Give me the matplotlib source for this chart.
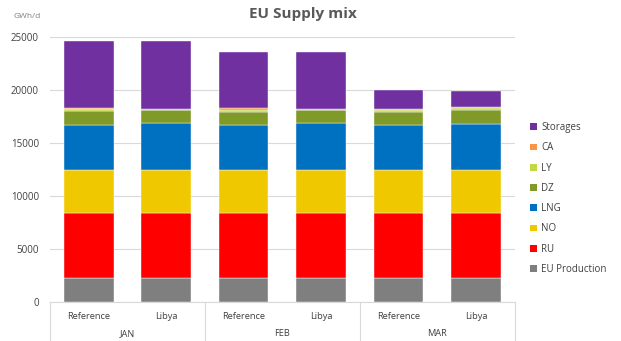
import numpy as np
import matplotlib
matplotlib.use("Agg")
import matplotlib.pyplot as plt
from matplotlib.patches import Patch

plt.rcParams['font.family'] = ['Open Sans', 'DejaVu Sans']

months = ['JAN', 'FEB', 'MAR']
scenarios = ['Reference', 'Libya']

# GWh/d, order: JAN Ref, JAN Libya, FEB Ref, FEB Libya, MAR Ref, MAR Libya
eu_prod = [2300, 2300, 2300, 2300, 2300, 2300]
ru = [6140, 6140, 6140, 6140, 6140, 6140]
no = [3980, 3980, 3980, 3980, 3980, 3980]
lng = [4330, 4480, 4290, 4450, 4260, 4420]
dz = [1260, 1270, 1270, 1300, 1290, 1260]
ly = [190, 0, 190, 0, 130, 180]
ca = [120, 60, 120, 60, 130, 110]
storages = [6350, 6440, 5340, 5400, 1770, 1540]

series = [('EU Production', eu_prod, '#7f7f7f'),
          ('RU', ru, '#ff0000'),
          ('NO', no, '#f0c800'),
          ('LNG', lng, '#0070c0'),
          ('DZ', dz, '#7f9a28'),
          ('LY', ly, '#c4d843'),
          ('CA', ca, '#f79646'),
          ('Storages', storages, '#7030a0')]

fig = plt.figure(figsize=(6.21, 3.41), dpi=100)
ax = fig.add_axes([0.0805, 0.1144, 0.7485, 0.7762])

x = np.arange(len(eu_prod))
bottom = np.zeros(len(x))
for name, vals, col in series:
    ax.bar(x, vals, width=0.64, bottom=bottom, color=col, label=name,
           edgecolor='white', linewidth=0.3, zorder=3)
    bottom += np.array(vals)

ax.set_xlim(-0.5, len(x) - 0.5)
ax.set_ylim(0, 25000)
ax.set_yticks(np.arange(0, 25001, 5000))
ax.tick_params(axis='y', length=0, labelsize=7, labelcolor='#404040', pad=8)
ax.set_xticks([])
ax.grid(axis='y', color='#d9d9d9', linewidth=0.8, zorder=0)
for s in ['top', 'right', 'left']:
    ax.spines[s].set_visible(False)
ax.spines['bottom'].set_color('#d9d9d9')

# two-level category axis
trans = ax.get_xaxis_transform()
for i in range(len(x)):
    ax.text(x[i], -0.055, scenarios[i % 2], transform=trans, ha='center',
            va='center', fontsize=6.7, color='#404040')
for j, m in enumerate(months):
    ax.text(2 * j + 0.5, -0.12, m, transform=trans, ha='center',
            va='center', fontsize=6.7, color='#404040')
for b in [-0.5, 1.5, 3.5, 5.5]:
    ax.plot([b, b], [0, -0.15], transform=trans, color='#d9d9d9',
            linewidth=0.8, clip_on=False)

fig.text(0.488, 0.958, 'EU Supply mix', fontsize=11, fontweight='bold',
         color='#595959', ha='center', va='center')
fig.text(0.022, 0.948, 'GWh/d', fontsize=6, color='#7f7f7f')

handles = [Patch(facecolor=c, label=n) for n, v, c in series][::-1]
fig.legend(handles=handles, loc='center left', bbox_to_anchor=(0.84, 0.418),
           frameon=False, fontsize=7, labelcolor='#404040',
           handlelength=0.7, handleheight=0.7, handletextpad=0.4,
           labelspacing=0.95)

fig.savefig('out.png', dpi=100)
